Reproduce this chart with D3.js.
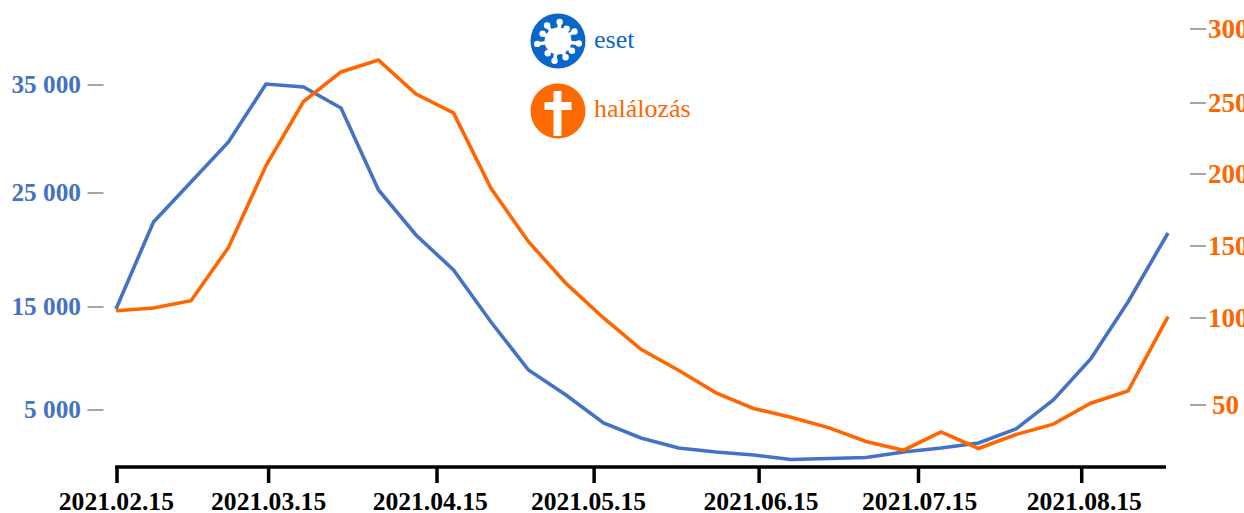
<!DOCTYPE html>
<html><head><meta charset="utf-8"><style>html,body{margin:0;background:#fff}svg{display:block}text{font-family:"Liberation Serif",serif}</style>
<script src="https://cdnjs.cloudflare.com/ajax/libs/d3/7.8.5/d3.min.js"></script></head><body><div id="c"></div><script>
const weeks = d3.range(29);
const cases = [14806,22460,26020,29722,35090,34815,32870,25278,21316,18245,13544,8884,6456,3738,2282,1311,922,631,194,291,388,922,1311,1796,3155,5971,9951,15438,21491];
const deaths = [105,107,112,149,206,251,271,279,256,243,190,153,124,100,82,70,57,48,43,37,29,24,34.5,25,33,39,51,58,101];
const caseTicks = [5000,15000,25000,35000];
const caseTickY = [410,307,193,85];
const deathTicks = [50,100,150,200,250,300];
const deathTickY = [405,318,246,174,103,29];
const dateLabels = ["2021.02.15","2021.03.15","2021.04.15","2021.05.15","2021.06.15","2021.07.15","2021.08.15"];
const dateWeeks = [0,4.07,8.56,12.75,17.15,21.4,25.76];
const dateLabelWeeks = [0.01,4.07,8.38,12.6,17.2,21.43,25.83];
const legendNames = ["eset","halálozás"];

const W=1244,H=513;
const svg=d3.select("#c").append("svg").attr("width",W).attr("height",H);
const x=d3.scaleLinear().domain([0,24,27,28]).range([116,1016,1128,1168]);
const yL=d3.scaleLinear().domain(caseTicks).range(caseTickY);
const yR=d3.scaleLinear().domain(deathTicks).range(deathTickY);
const BLUE="#4472c4",ORANGE="#ff6600",GRAY="#a6a6a6";
const line=(sc)=>d3.line().x((d,i)=>x(weeks[i])).y(d=>sc(d));
svg.append("path").datum(cases).attr("d",line(yL)).attr("fill","none").attr("stroke",BLUE).attr("stroke-width",3.6);
svg.append("path").datum(deaths).attr("d",line(yR)).attr("fill","none").attr("stroke",ORANGE).attr("stroke-width",3.6);

// x axis
const axisY=467;
svg.append("line").attr("x1",115).attr("x2",1166).attr("y1",axisY).attr("y2",axisY).attr("stroke","#000").attr("stroke-width",3.5);
dateWeeks.forEach((w,i)=>{
  svg.append("line").attr("x1",x(w)+(i?0:1)).attr("x2",x(w)+(i?0:1)).attr("y1",axisY).attr("y2",483).attr("stroke","#000").attr("stroke-width",3.5);
  svg.append("text").attr("x",x(dateLabelWeeks[i])).attr("y",510).attr("text-anchor","middle").attr("font-size",25.6).attr("font-weight","bold").attr("fill","#000").text(dateLabels[i]);
});
// left axis
const fmt=v=>d3.format(",")(v).replace(","," ");
caseTicks.forEach(v=>{
  svg.append("line").attr("x1",87.5).attr("x2",103.5).attr("y1",yL(v)).attr("y2",yL(v)).attr("stroke",GRAY).attr("stroke-width",2);
  svg.append("text").attr("x",81).attr("y",yL(v)+8).attr("text-anchor","end").attr("font-size",25.3).attr("font-weight","bold").attr("fill",BLUE).text(fmt(v));
});
// right axis
deathTicks.forEach(v=>{
  svg.append("line").attr("x1",1190).attr("x2",1206).attr("y1",yR(v)).attr("y2",yR(v)).attr("stroke",GRAY).attr("stroke-width",2);
  svg.append("text").attr("x",v<100?1212:1208).attr("y",yR(v)+8.5).attr("font-size",27).attr("font-weight","bold").attr("fill",ORANGE).text(v);
});
// legend
const leg=[{c:"#0a66c8",y:41,ty:48},{c:"#ff6a00",y:111,ty:117}];
leg.forEach((l,i)=>{
  svg.append("circle").attr("cx",558).attr("cy",l.y).attr("r",27.5).attr("fill",l.c);
  svg.append("text").attr("x",594).attr("y",l.ty).attr("font-size",26).attr("fill",i?ORANGE:l.c).text(legendNames[i]);
});
const g=svg.append("g").attr("transform","translate(558,41)");
g.append("circle").attr("r",13.5).attr("fill","#fff");
const spikes=[[5,19],[35,15],[60,19],[97,21],[125,17],[155,18],[190,20],[220,16],[262,21],[295,17],[325,19]];
spikes.forEach(([a,len])=>{
  const r=a*Math.PI/180,dx=Math.sin(r),dy=-Math.cos(r);
  g.append("line").attr("x1",0).attr("y1",0).attr("x2",dx*len).attr("y2",dy*len).attr("stroke","#fff").attr("stroke-width",3.6);
  g.append("circle").attr("cx",dx*len).attr("cy",dy*len).attr("r",3.2).attr("fill","#fff");
});
const cr=svg.append("g").attr("fill","#fff");
cr.append("rect").attr("x",553.5).attr("y",91).attr("width",8).attr("height",45);
cr.append("rect").attr("x",544.5).attr("y",102).attr("width",27).attr("height",8);
</script></body></html>
